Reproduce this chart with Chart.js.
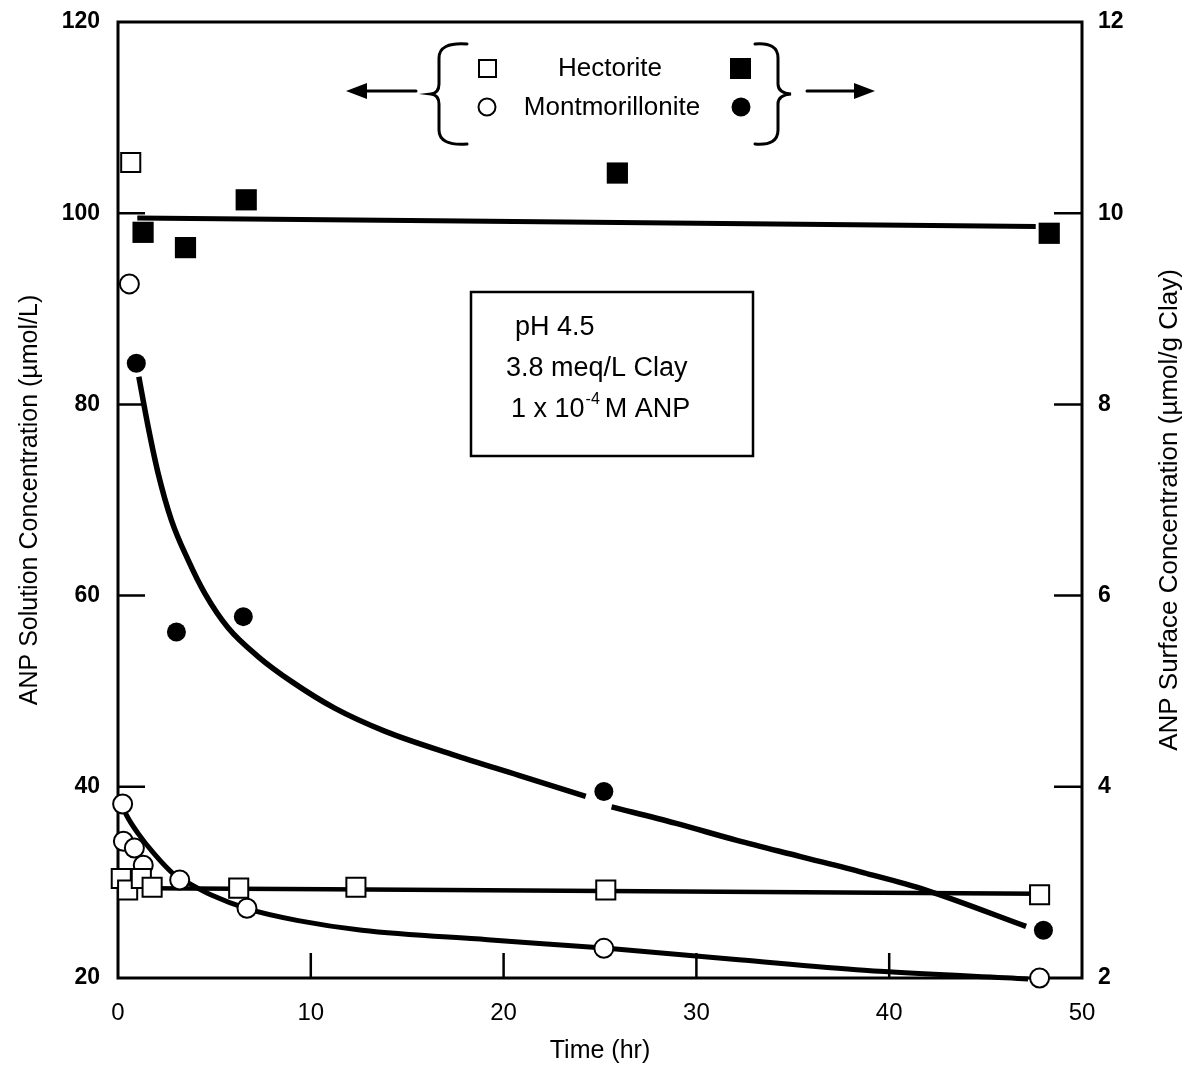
<!DOCTYPE html>
<html>
<head>
<meta charset="utf-8">
<script src="https://cdn.jsdelivr.net/npm/chart.js@4.4.1/dist/chart.umd.min.js"></script>
<style>
  body { margin: 0; background: #fff; }
  #wrap { width: 1187px; height: 1066px; }
</style>
</head>
<body>
<div id="wrap"><canvas id="chart" width="1187" height="1066"></canvas></div>
<script>
// Hectorite, solution concentration (open squares, left axis)
const hecSolTime = [0.17, 0.5, 0.66, 1.21, 1.77, 6.26, 12.34, 25.3, 47.8];
const hecSolConc = [30.4, 29.2, 105.3, 30.4, 29.5, 29.4, 29.5, 29.2, 28.7];
// Hectorite, surface concentration (filled squares, right axis)
const hecSurfTime = [1.3, 3.5, 6.65, 25.9, 48.3];
const hecSurfConc = [9.80, 9.64, 10.14, 10.42, 9.79];
// Montmorillonite, solution concentration (open circles, left axis)
const monSolTime = [0.24, 0.28, 0.59, 0.85, 1.31, 3.2, 6.69, 25.2, 47.8];
const monSolConc = [38.2, 34.3, 92.6, 33.6, 31.8, 30.25, 27.3, 23.1, 20.0];
// Montmorillonite, surface concentration (filled circles, right axis)
const monSurfTime = [0.95, 3.03, 6.5, 25.2, 48.0];
const monSurfConc = [8.43, 5.62, 5.78, 3.95, 2.50];

// fitted curves
const hecSolFitTime = [1.5, 47.8];
const hecSolFitConc = [29.4, 28.8];
const hecSurfFitTime = [1.0, 47.6];
const hecSurfFitConc = [9.95, 9.86];
const monSolFitTime = [0.17, 0.45, 1.05, 1.87, 2.84, 3.6, 4.81, 6.77, 9.35, 12.65, 19.17, 25.37, 32.2, 38.7, 47.2];
const monSolFitConc = [38.3, 37.0, 35.1, 33.0, 30.95, 30.0, 28.7, 27.2, 26.0, 25.0, 24.0, 23.1, 21.9, 20.8, 19.9];
const monSurfFitTime = [1.08, 1.56, 2.08, 2.77, 3.64, 4.51, 5.72, 7.28, 9.01, 11.26, 13.86, 17.32, 20.79, 24.26, 25.0, 25.6, 28.9, 32.1, 35.4, 38.7, 41.9, 47.1];
const monSurfFitConc = [8.29, 7.77, 7.28, 6.79, 6.37, 6.02, 5.66, 5.36, 5.10, 4.82, 4.58, 4.34, 4.12, 3.90, null, 3.79, 3.62, 3.44, 3.27, 3.10, 2.92, 2.54];

// axis ticks
const xTicks = [0, 10, 20, 30, 40, 50];
const yTicks = [20, 40, 60, 80, 100, 120];
const y2Ticks = [2, 4, 6, 8, 10, 12];

const FONT = "'Liberation Sans', Arial, Helvetica, sans-serif";

function toPoints(xs, ys) {
    return xs.map((x, i) => ({ x: x, y: ys[i] }));
}

// fixed box sizes so the plot area matches the original figure
function fixWidth(w) {
    return s => {
        s.width = w;
        s.paddingTop = 0;
        s.paddingBottom = 0;
    };
}

// Frame and inward tick marks, drawn under the data
const framePlugin = {
    id: 'frame',
    beforeDatasetsDraw(chart) {
        const { ctx, chartArea: a, scales } = chart;
        ctx.save();
        ctx.strokeStyle = '#000';
        ctx.lineWidth = 3;
        ctx.strokeRect(a.left, a.top, a.right - a.left, a.bottom - a.top);
        ctx.lineWidth = 2.5;
        ctx.beginPath();
        xTicks.slice(1, -1).forEach(v => {
            const px = scales.x.getPixelForValue(v);
            ctx.moveTo(px, a.bottom);
            ctx.lineTo(px, a.bottom - 25);
        });
        yTicks.slice(1, -1).forEach(v => {
            const py = scales.y.getPixelForValue(v);
            ctx.moveTo(a.left, py);
            ctx.lineTo(a.left + 27, py);
        });
        y2Ticks.slice(1, -1).forEach(v => {
            const py = scales.y2.getPixelForValue(v);
            ctx.moveTo(a.right, py);
            ctx.lineTo(a.right - 28, py);
        });
        ctx.stroke();
        ctx.restore();
    }
};

// Legend with braces and arrows, condition box, right axis title
const notesPlugin = {
    id: 'notes',
    afterDraw(chart) {
        const { ctx, chartArea: a } = chart;
        ctx.save();
        ctx.strokeStyle = '#000';
        ctx.fillStyle = '#000';
        ctx.lineCap = 'round';

        // braces
        ctx.lineWidth = 3;
        ctx.beginPath();
        ctx.moveTo(467, 44);
        ctx.quadraticCurveTo(439, 42, 439, 58);
        ctx.lineTo(439, 84);
        ctx.quadraticCurveTo(439, 93, 431, 94);
        ctx.quadraticCurveTo(439, 95, 439, 104);
        ctx.lineTo(439, 130);
        ctx.quadraticCurveTo(439, 146, 467, 144);
        ctx.moveTo(755, 44);
        ctx.quadraticCurveTo(778, 42, 778, 58);
        ctx.lineTo(778, 84);
        ctx.quadraticCurveTo(778, 93, 791, 94);
        ctx.quadraticCurveTo(778, 95, 778, 104);
        ctx.lineTo(778, 130);
        ctx.quadraticCurveTo(778, 146, 755, 144);
        ctx.stroke();

        // arrows
        ctx.lineWidth = 3;
        ctx.beginPath();
        ctx.moveTo(416, 91); ctx.lineTo(362, 91);
        ctx.moveTo(807, 91); ctx.lineTo(858, 91);
        ctx.stroke();
        ctx.beginPath();
        ctx.moveTo(346, 91); ctx.lineTo(367, 83); ctx.lineTo(367, 99); ctx.closePath();
        ctx.moveTo(875, 91); ctx.lineTo(854, 83); ctx.lineTo(854, 99); ctx.closePath();
        ctx.fill();

        // legend markers
        ctx.lineWidth = 2;
        ctx.strokeRect(479, 60, 17, 17);
        ctx.fillRect(730, 58, 21, 21);
        ctx.beginPath();
        ctx.arc(487, 107, 8.5, 0, Math.PI * 2);
        ctx.stroke();
        ctx.beginPath();
        ctx.arc(741, 107, 9.5, 0, Math.PI * 2);
        ctx.fill();

        ctx.font = '26px ' + FONT;
        ctx.textAlign = 'center';
        ctx.textBaseline = 'middle';
        ctx.fillText('Hectorite', 610, 69);
        ctx.fillText('Montmorillonite', 612, 108);

        // condition box
        ctx.lineWidth = 2.5;
        ctx.strokeRect(471, 292, 282, 164);
        ctx.textAlign = 'left';
        ctx.textBaseline = 'alphabetic';
        ctx.font = '27px ' + FONT;
        ctx.fillText('pH 4.5', 515, 335);
        ctx.fillText('3.8 meq/L Clay', 506, 376);
        ctx.fillText('1 x 10', 511, 417);
        const w = ctx.measureText('1 x 10').width;
        ctx.font = '16px ' + FONT;
        ctx.fillText('-4', 511 + w + 1, 404);
        const w2 = ctx.measureText('-4').width;
        ctx.font = '27px ' + FONT;
        ctx.fillText('M ANP', 511 + w + w2 + 6, 417);

        // right axis title (reads bottom to top)
        ctx.font = '26px ' + FONT;
        ctx.textAlign = 'center';
        ctx.textBaseline = 'middle';
        ctx.translate(1170, (a.top + a.bottom) / 2 + 10);
        ctx.rotate(-Math.PI / 2);
        ctx.fillText('ANP Surface Concentration (\u00b5mol/g Clay)', 0, 0);
        ctx.restore();
    }
};

const fitStyle = {
    showLine: true,
    pointRadius: 0,
    borderColor: '#000',
    backgroundColor: '#000',
    borderWidth: 5,
    cubicInterpolationMode: 'monotone',
    spanGaps: false,
    clip: false,
    order: 2
};

new Chart(document.getElementById('chart'), {
    type: 'scatter',
    data: {
        datasets: [
            { ...fitStyle, label: 'Hectorite fit', data: toPoints(hecSolFitTime, hecSolFitConc), yAxisID: 'y', borderWidth: 4.5 },
            { ...fitStyle, label: 'Hectorite surface fit', data: toPoints(hecSurfFitTime, hecSurfFitConc), yAxisID: 'y2' },
            { ...fitStyle, label: 'Montmorillonite fit', data: toPoints(monSolFitTime, monSolFitConc), yAxisID: 'y' },
            { ...fitStyle, label: 'Montmorillonite surface fit', data: toPoints(monSurfFitTime, monSurfFitConc), yAxisID: 'y2', borderWidth: 5.5 },
            {
                label: 'Hectorite', data: toPoints(hecSolTime, hecSolConc), yAxisID: 'y',
                pointStyle: 'rect', pointRadius: 13.5, pointBorderWidth: 2,
                pointBorderColor: '#000', pointBackgroundColor: '#fff', clip: false, order: 1
            },
            {
                label: 'Montmorillonite', data: toPoints(monSolTime, monSolConc), yAxisID: 'y',
                pointStyle: 'circle', pointRadius: 9.5, pointBorderWidth: 2,
                pointBorderColor: '#000', pointBackgroundColor: '#fff', clip: false, order: 1
            },
            {
                label: 'Hectorite surface', data: toPoints(hecSurfTime, hecSurfConc), yAxisID: 'y2',
                pointStyle: 'rect', pointRadius: 15, pointBorderWidth: 0,
                pointBorderColor: '#000', pointBackgroundColor: '#000', clip: false, order: 1
            },
            {
                label: 'Montmorillonite surface', data: toPoints(monSurfTime, monSurfConc), yAxisID: 'y2',
                pointStyle: 'circle', pointRadius: 9.5, pointBorderWidth: 0,
                pointBorderColor: '#000', pointBackgroundColor: '#000', clip: false, order: 1
            }
        ]
    },
    options: {
        responsive: false,
        animation: false,
        events: [],
        layout: { padding: { top: 22, left: 0, right: 0, bottom: 0 } },
        plugins: {
            legend: { display: false },
            tooltip: { enabled: false }
        },
        scales: {
            x: {
                type: 'linear', min: 0, max: 50,
                grid: { display: false, drawTicks: false },
                border: { display: false },
                ticks: { stepSize: 10, padding: 21, color: '#000', font: { family: FONT, size: 24 } },
                title: { display: true, text: 'Time (hr)', color: '#000', padding: { top: 0, bottom: 0 }, font: { family: FONT, size: 25 } },
                afterFit: s => { s.height = 88; }
            },
            y: {
                type: 'linear', position: 'left', min: 20, max: 120,
                grid: { display: false, drawTicks: false },
                border: { display: false },
                ticks: { stepSize: 20, padding: 18, color: '#000', font: { family: FONT, size: 23, weight: 'bold' } },
                title: { display: true, text: 'ANP Solution Concentration (\u00b5mol/L)', color: '#000', padding: { top: 15, bottom: 0 }, font: { family: FONT, size: 25 } },
                afterFit: fixWidth(118)
            },
            y2: {
                type: 'linear', position: 'right', min: 2, max: 12,
                grid: { display: false, drawTicks: false },
                border: { display: false },
                ticks: { stepSize: 2, padding: 16, color: '#000', font: { family: FONT, size: 23, weight: 'bold' } },
                afterFit: fixWidth(105)
            }
        }
    },
    plugins: [framePlugin, notesPlugin]
});
</script>
</body>
</html>
